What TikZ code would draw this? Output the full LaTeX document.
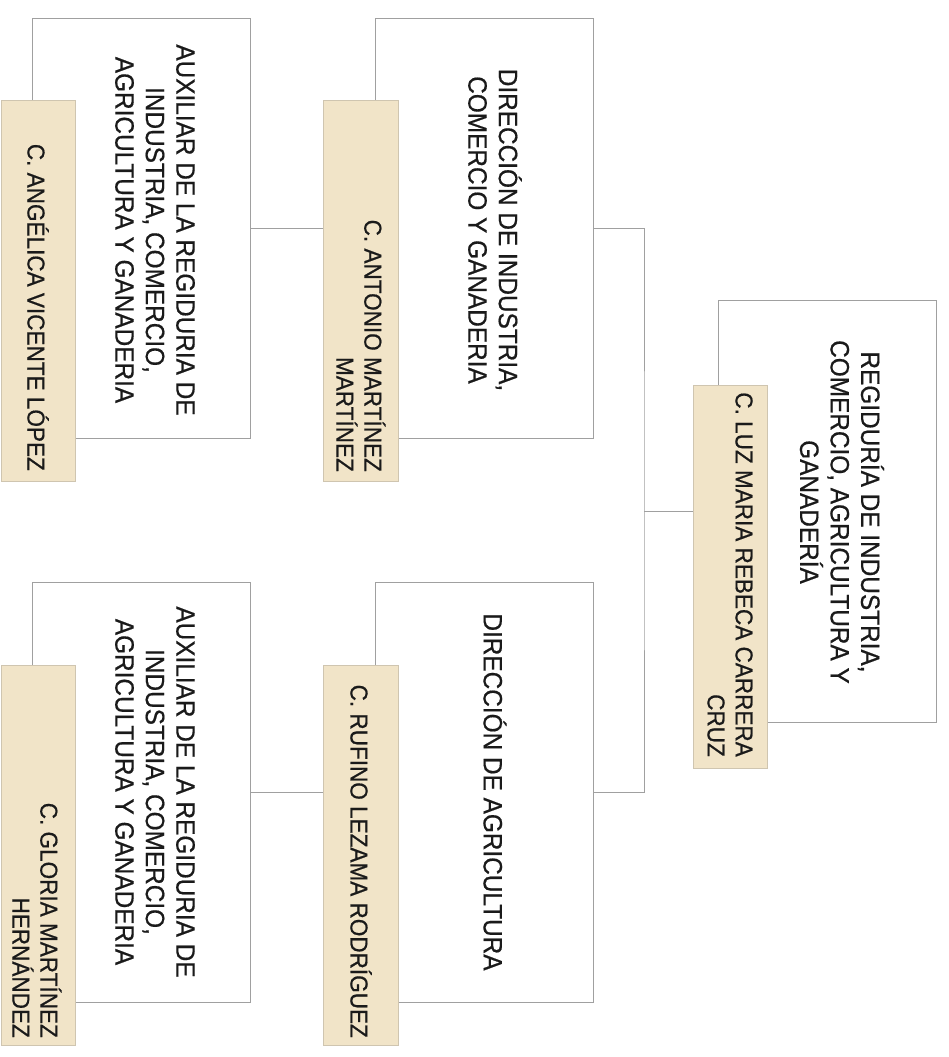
\documentclass[tikz,border=0pt]{standalone}
\usepackage{fontspec}
\setmainfont{Liberation Sans}
\newfontfamily\boxfont[FakeStretch=0.92, FakeBold=0.6]{Liberation Sans}
\definecolor{tanfill}{HTML}{F1E4C8}
\definecolor{linegray}{HTML}{A0A0A0}
\definecolor{tanline}{HTML}{CFC5B0}
\definecolor{ink}{HTML}{1A1A1A}
\begin{document}
\begin{tikzpicture}[x=1pt,y=-1pt,
  wbox/.style={draw=linegray, line width=0.9pt, fill=white, inner sep=0pt, rectangle},
  tbox/.style={draw=tanline, line width=0.6pt, fill=tanfill, inner sep=0pt, rectangle},
  conn/.style={draw=linegray, line width=0.9pt},
  wtext/.style={rotate=-90, align=center, text=ink, font=\boxfont\fontsize{26.5}{30.5}\selectfont, inner sep=0pt},
  ttext/.style={rotate=-90, align=right, anchor=east, text=ink, font=\boxfont\fontsize{24.5}{28}\selectfont, inner sep=0pt}]
\useasboundingbox[fill=white] (0,0) rectangle (948,1057);

% white boxes
\node[wbox, minimum width=218pt, minimum height=422pt] (root) at (827,511) {};
\node[wbox, minimum width=218pt, minimum height=420pt] (d1) at (484,228) {};
\node[wbox, minimum width=218pt, minimum height=420pt] (d2) at (484,792) {};
\node[wbox, minimum width=218pt, minimum height=420pt] (a1) at (141,228) {};
\node[wbox, minimum width=218pt, minimum height=420pt] (a2) at (141,792) {};

% tan name boxes
\node[tbox, minimum width=74pt, minimum height=383pt] (rootn) at (730,576.5) {};
\node[tbox, minimum width=75pt, minimum height=381pt] (d1n) at (360.5,290.5) {};
\node[tbox, minimum width=75pt, minimum height=380pt] (d2n) at (360.5,855) {};
\node[tbox, minimum width=74pt, minimum height=381pt] (a1n) at (38,290.5) {};
\node[tbox, minimum width=74pt, minimum height=380pt] (a2n) at (38,855) {};

% texts
\node[wtext] (root-t) at (842,512) {REGIDURÍA DE INDUSTRIA,\\COMERCIO, AGRICULTURA Y\\GANADERÍA};
\node[wtext] (d1-t) at (495,230) {DIRECCIÓN DE INDUSTRIA,\\COMERCIO Y GANADERIA};
\node[wtext] (d2-t) at (495,792) {DIRECCIÓN DE AGRICULTURA};
\node[wtext] (a1-t) at (155,230) {AUXILIAR DE LA REGIDURIA DE\\INDUSTRIA, COMERCIO,\\AGRICULTURA Y GANADERIA};
\node[wtext] (a2-t) at (155,792) {AUXILIAR DE LA REGIDURIA DE\\INDUSTRIA, COMERCIO,\\AGRICULTURA Y GANADERIA};

\node[ttext] (rootn-t) at (730,757) {C. LUZ MARIA REBECA CARRERA\\CRUZ};
\node[ttext] (d1n-t) at (361,472) {C. ANTONIO MARTÍNEZ\\MARTÍNEZ};
\node[ttext] (d2n-t) at (361,1038) {C. RUFINO LEZAMA RODRÍGUEZ};
\node[ttext] (a1n-t) at (38,471) {C. ANGÉLICA VICENTE LÓPEZ};
\node[ttext] (a2n-t) at (37,1038) {C. GLORIA MARTÍNEZ\\HERNÁNDEZ};

% connectors
\coordinate (bus) at (644,511);
\draw[conn] (rootn.west |- root.west) -- (bus);
\draw[conn] (d1.east) -| (bus) |- (d2.east);
\draw[conn] (a1.east) -- (d1n.west |- a1.east);
\draw[conn] (a2.east) -- (d2n.west |- a2.east);
\end{tikzpicture}
\end{document}
